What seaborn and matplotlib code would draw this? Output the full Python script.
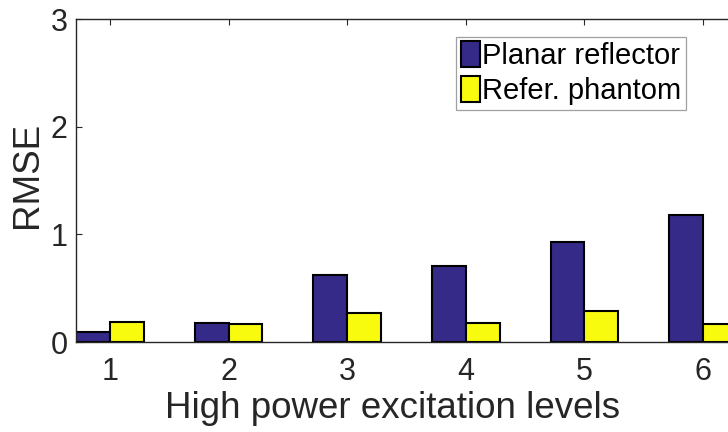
import matplotlib
matplotlib.use("Agg")
import matplotlib.pyplot as plt
import seaborn as sns
import pandas as pd
from matplotlib.patches import Patch

levels = ["1", "2", "3", "4", "5", "6"]
planar_reflector = [0.096, 0.174, 0.62, 0.706, 0.927, 1.18]
refer_phantom = [0.189, 0.167, 0.272, 0.179, 0.285, 0.167]
series_names = ["Planar reflector", "Refer. phantom"]
colors = ["#352a87", "#f9fb0e"]

df = pd.DataFrame({
    "level": levels * 2,
    "rmse": planar_reflector + refer_phantom,
    "series": [series_names[0]] * len(levels) + [series_names[1]] * len(levels),
})

sns.set_theme(style="white")
plt.rcParams["font.family"] = ["Liberation Sans", "DejaVu Sans"]

fig = plt.figure(figsize=(7.28, 4.32), dpi=100)
W, H = 728, 432
left, right, top, bottom = 76, 737, 19.3, 342
ax = fig.add_axes([left / W, 1 - bottom / H, (right - left) / W, (bottom - top) / H])

sns.barplot(data=df, x="level", y="rmse", hue="series", hue_order=series_names,
            order=levels, palette=colors, width=0.5714, gap=0, saturation=1,
            edgecolor="black", linewidth=1.5, ax=ax, legend=False)

bw = 0.5714 / 2
ax.set_xlim(-bw, len(levels) - 1 + bw)
ax.set_ylim(0, 3)
ax.set_yticks([0, 1, 2, 3])

for s in ax.spines.values():
    s.set_color("#262626")
    s.set_linewidth(1.0)
    s.set_visible(True)

ax.tick_params(axis="both", direction="in", length=4.5, width=0.8, color="#262626",
               labelcolor="#262626", labelsize=22, top=True, right=True,
               bottom=True, left=True)
ax.tick_params(axis="x", pad=11)
ax.tick_params(axis="y", pad=6)

ax.set_xlabel("High power excitation levels", fontsize=26.5, color="#262626", va="center")
ax.set_ylabel("RMSE", fontsize=26.5, color="#262626", va="center")
ax.xaxis.set_label_coords((392.5 - left) / (right - left), (bottom - 408) / (bottom - top))
ax.yaxis.set_label_coords((28 - left) / (right - left), (bottom - 175) / (bottom - top))

handles = [Patch(facecolor=c, edgecolor="black", linewidth=1.5) for c in colors]
leg = fig.legend(handles, series_names, loc="upper right",
                 bbox_to_anchor=(686 / W, 1 - 37 / H), bbox_transform=fig.transFigure,
                 fontsize=21, frameon=True, fancybox=False, framealpha=1,
                 edgecolor="#a0a0a0", borderpad=0.15, borderaxespad=0,
                 handlelength=0.65, handleheight=1.0, handletextpad=0.1,
                 labelspacing=0.2)
leg.get_frame().set_linewidth(0.9)
for t in leg.get_texts():
    t.set_color("black")

fig.savefig("out.png", dpi=100)
